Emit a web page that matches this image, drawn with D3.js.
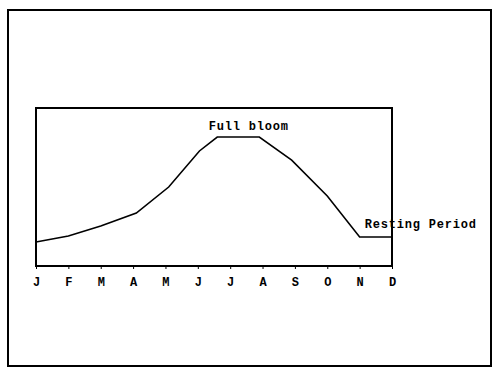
<!DOCTYPE html>
<html>
<head>
<meta charset="utf-8">
<script src="https://cdn.jsdelivr.net/npm/d3@7"></script>
<style>
  body { margin: 0; background: #fff; }
  text { font-family: "Liberation Mono", "DejaVu Sans Mono", monospace; font-weight: bold; fill: #000; }
</style>
</head>
<body>
<svg id="chart"></svg>
<script>
// month labels along the bottom
const monthLabels = ["J", "F", "M", "A", "M", "J", "J", "A", "S", "O", "N", "D"]
// bloom curve: position in months (0 = Jan) and relative level
const bloomMonth = [0, 1, 2, 3.1, 4.1, 5.05, 5.6, 6.9, 7.9, 9, 10, 11]
const bloomLevel = [15.2, 19, 25.3, 33.5, 50, 72.8, 81.6, 81.6, 67, 44.3, 18.4, 18.4]
const notes = [
    {text: "Full bloom", month: 5.34, level: 86},
    {text: "Resting Period", month: 10.16, level: 24}
]

const width = 500, height = 376
const margins = {left: 36, right: 108, top: 108, bottom: 110}

const svg = d3.select("#chart").attr("width", width).attr("height", height)

const scaleX = d3.scaleLinear().domain([0, 11]).range([margins.left, width - margins.right])
const scaleY = d3.scaleLinear().domain([0, 100]).range([height - margins.bottom, margins.top])

// outer frame
svg.append("rect")
    .attr("x", 8).attr("y", 10)
    .attr("width", 483).attr("height", 356)
    .attr("fill", "none").attr("stroke", "#000").attr("stroke-width", 2)

// plot box
svg.append("rect")
    .attr("x", scaleX(0)).attr("y", scaleY(100))
    .attr("width", scaleX(11) - scaleX(0)).attr("height", scaleY(0) - scaleY(100))
    .attr("fill", "none").attr("stroke", "#000").attr("stroke-width", 2)

// month axis
const xAxis = d3.axisBottom(scaleX)
    .tickValues(d3.range(12))
    .tickFormat(i => monthLabels[i])
    .tickSize(3)
    .tickPadding(8)

const axisG = svg.append("g")
    .attr("transform", `translate(0, ${scaleY(0)})`)
    .call(xAxis)
axisG.select(".domain").remove()
axisG.selectAll("text").attr("font-size", 12).attr("font-family", null)

// bloom line
const line = d3.line()
    .x((d, i) => scaleX(bloomMonth[i]))
    .y(d => scaleY(d))

svg.append("path")
    .attr("d", line(bloomLevel))
    .attr("fill", "none")
    .attr("stroke", "#000")
    .attr("stroke-width", 1.6)

// annotations
svg.selectAll(".note")
    .data(notes)
    .join("text")
    .attr("class", "note")
    .attr("x", d => scaleX(d.month))
    .attr("y", d => scaleY(d.level))
    .attr("font-size", 12)
    .attr("letter-spacing", 0.8)
    .text(d => d.text)
</script>
</body>
</html>
